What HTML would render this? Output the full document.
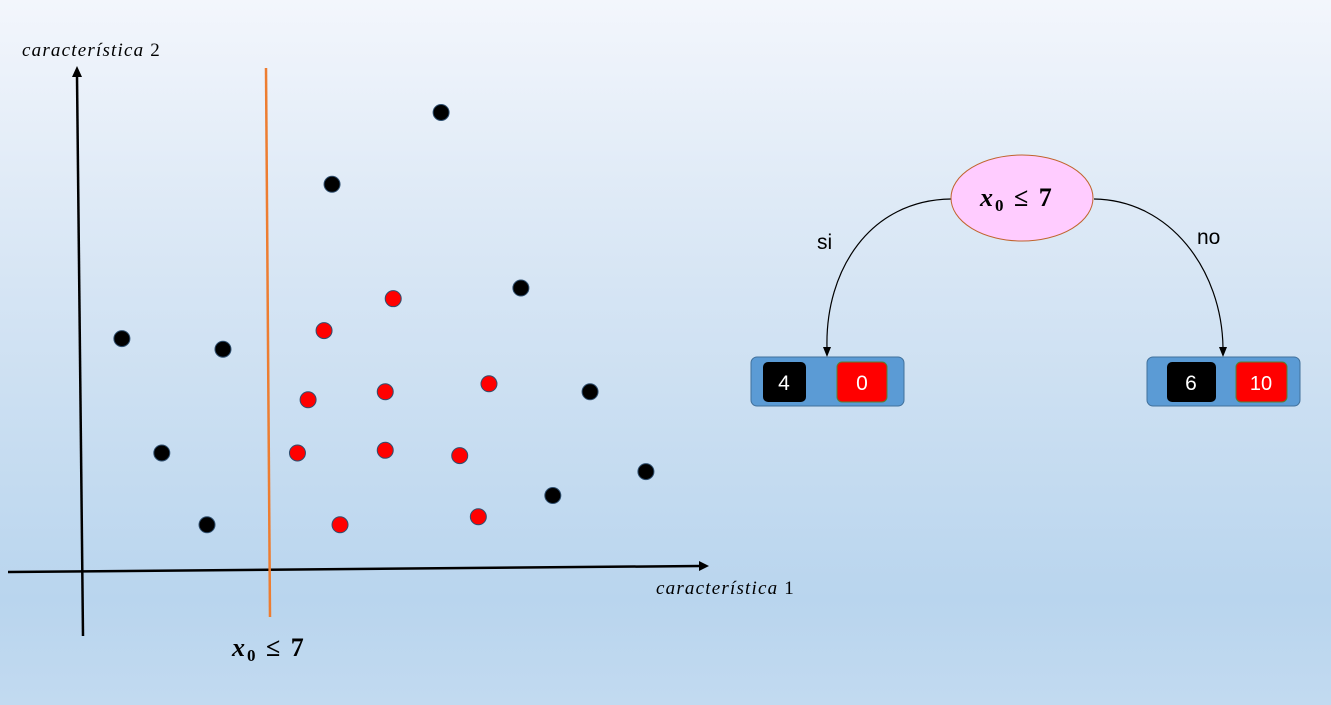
<!DOCTYPE html>
<html><head><meta charset="utf-8"><style>
html,body{margin:0;padding:0}
body{width:1331px;height:705px;overflow:hidden;background:linear-gradient(#f3f6fc 0%,#d6e5f4 40%,#b9d5ee 85%,#c2daf0 100%);font-family:"Liberation Sans",sans-serif}
svg{display:block}
</style></head><body>
<svg id="chart" width="1331" height="705" xmlns="http://www.w3.org/2000/svg">
<line x1="8" y1="572" x2="700" y2="566" stroke="#000" stroke-width="2.5"/>
<path d="M709,566 L699,561 L699,571 Z" fill="#000"/>
<line x1="83" y1="636" x2="77" y2="76" stroke="#000" stroke-width="2.5"/>
<path d="M77,66 L72,77 L82,77 Z" fill="#000"/>
<text x="22" y="56" font-family="Liberation Serif,serif" font-style="italic" font-size="19" letter-spacing="1.2">característica <tspan font-style="normal">2</tspan></text>
<text x="656" y="594" font-family="Liberation Serif,serif" font-style="italic" font-size="19" letter-spacing="1.2">característica <tspan font-style="normal">1</tspan></text>
<line x1="266" y1="68" x2="270" y2="617" stroke="#ed7d31" stroke-width="2.5"/>
<text x="232" y="656" font-family="Liberation Serif,serif" font-weight="bold" font-size="26" letter-spacing="2"><tspan font-style="italic">x</tspan><tspan font-size="17" dy="5">0</tspan><tspan dy="-5"> ≤ 7</tspan></text>
<g id="pts"></g>
<path d="M951,199 C870,200 825,270 827,348" fill="none" stroke="#000" stroke-width="1.2"/>
<path d="M823,347 L827,357 L831,347 Z" fill="#000"/>
<path d="M1094,199 C1170,200 1222,270 1223,348" fill="none" stroke="#000" stroke-width="1.2"/>
<path d="M1219,347 L1223,357 L1227,347 Z" fill="#000"/>
<ellipse cx="1022" cy="198" rx="71" ry="43" fill="#ffccff" stroke="#c0642d" stroke-width="1"/>
<text x="980" y="206" font-family="Liberation Serif,serif" font-weight="bold" font-size="26" letter-spacing="2"><tspan font-style="italic">x</tspan><tspan font-size="17" dy="5">0</tspan><tspan dy="-5"> ≤ 7</tspan></text>
<text x="817" y="249" font-size="21">si</text>
<text x="1197" y="244" font-size="21">no</text>
<g>
<rect x="751" y="357" width="153" height="49" rx="6" fill="#5b9bd5" stroke="#41719c"/>
<rect x="763" y="362" width="43" height="40" rx="5" fill="#000"/>
<text x="784" y="390" fill="#fff" font-size="21" text-anchor="middle">4</text>
<rect x="837" y="362" width="50" height="40" rx="5" fill="#f00" stroke="#548235"/>
<text x="862" y="390" fill="#fff" font-size="21" text-anchor="middle">0</text>
</g>
<g>
<rect x="1147" y="357" width="153" height="49" rx="6" fill="#5b9bd5" stroke="#41719c"/>
<rect x="1167" y="362" width="49" height="40" rx="5" fill="#000"/>
<text x="1191" y="390" fill="#fff" font-size="21" text-anchor="middle">6</text>
<rect x="1236" y="362" width="51" height="40" rx="5" fill="#f00" stroke="#548235"/>
<text x="1261" y="390" fill="#fff" font-size="20" text-anchor="middle">10</text>
</g>
</svg>
<script>
const blackX=[1.5,5.3,3.0,4.7,9.4,13.5,16.5,19.1,17.7,21.2];
const blackY=[8.7,8.3,4.4,1.7,14.5,17.2,10.6,6.7,2.8,3.7];
const redX=[11.7,9.1,8.5,11.4,15.3,8.1,11.4,14.2,9.7,14.9];
const redY=[10.2,9.0,6.4,6.7,7.0,4.4,4.5,4.3,1.7,2.0];
function sx(v){return 82+v*26.6;}
function sy(v){return 570-v*26.6;}
const g=document.getElementById('pts');
function draw(xs,ys,fill,name){
  xs.forEach((x,i)=>{
    const c=document.createElementNS('http://www.w3.org/2000/svg','circle');
    c.setAttribute('cx',sx(x));c.setAttribute('cy',sy(ys[i]));c.setAttribute('r',8);
    c.setAttribute('fill',fill);c.setAttribute('stroke','#2f4f6f');c.setAttribute('stroke-width','1');
    
    
    g.appendChild(c);
  });
}
draw(blackX,blackY,'#000','black-point');
draw(redX,redY,'#f00','red-point');
</script>
</body></html>
